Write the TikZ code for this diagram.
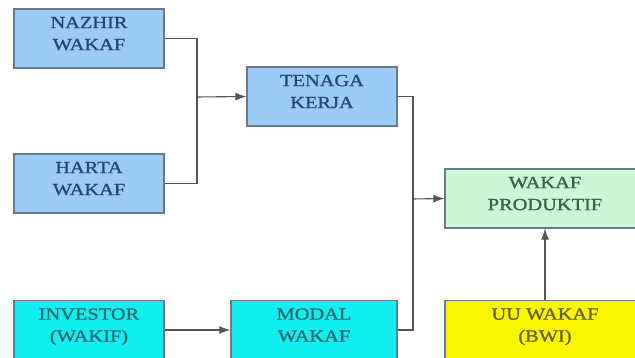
\documentclass[tikz,border=0pt]{standalone}
\usepackage{fontspec}
\setmainfont[FakeStretch=1.2,FakeBold=1.2]{Liberation Serif}
\usepackage{tikz}
\usetikzlibrary{arrows.meta,positioning}

\definecolor{boxblue}{HTML}{9CCBF7}
\definecolor{txtblue}{HTML}{274672}
\definecolor{boxcyan}{HTML}{10EEF0}
\definecolor{txtcyan}{HTML}{286A70}
\definecolor{boxgreen}{HTML}{CDF5D6}
\definecolor{txtgreen}{HTML}{3A6048}
\definecolor{boxyellow}{HTML}{FAF600}
\definecolor{txtyellow}{HTML}{666020}
\definecolor{edgegray}{HTML}{6A7A8C}
\definecolor{linegray}{HTML}{555555}

\begin{document}
\begin{tikzpicture}[
				x = 1pt, y = 1pt,
				every node/.style = {font = \fontsize{17}{22}\selectfont, align = center, text depth = 10pt},
				box/.style = {draw = edgegray, line width = 1.3pt, minimum height = 59pt, inner sep = 0pt},
				bluebox/.style = {box, fill = boxblue, text = txtblue, minimum width = 150pt},
				cyanbox/.style = {box, fill = boxcyan, text = txtcyan},
				greenbox/.style = {box, fill = boxgreen, text = txtgreen, minimum width = 200pt},
				yellowbox/.style = {box, fill = boxyellow, text = txtyellow, minimum width = 200pt},
				link/.style = {draw = linegray, line width = 1.1pt},
				arrowlink/.style = {link, -{Latex[length=11pt,width=8pt]}}
			]

			\useasboundingbox (0,0) rectangle (635,358);
			\clip (0,0) rectangle (635,358);

			\node[bluebox] (nazhir) at (89,319.5) {NAZHIR\\WAKAF};
			\node[bluebox] (harta) at (89,174.5) {HARTA\\WAKAF};
			\node[bluebox] (tenaga) at (322,261.5) {TENAGA\\KERJA};
			\node[cyanbox, minimum width = 150pt] (investor) at (89,28) {INVESTOR\\(WAKIF)};
			\node[cyanbox, minimum width = 166pt] (modal) at (314,28) {MODAL\\WAKAF};
			\node[greenbox] (produktif) at (545,159.5) {WAKAF\\PRODUKTIF};
			\node[yellowbox] (uu) at (545,28) {UU WAKAF\\(BWI)};

			\coordinate (joinA) at (197,261);
			\coordinate (joinB) at (413,159);

			\draw[link] (nazhir.east) -| (joinA) |- (harta.east);
			\draw[arrowlink] (joinA) -- (tenaga.west);

			\draw[link] (tenaga.east) -| (joinB) |- (modal.east);
			\draw[arrowlink] (joinB) -- (produktif.west);

			\draw[arrowlink] (investor.east) -- (modal.west);
			\draw[arrowlink] (uu.north) -- (produktif.south);

			\end{tikzpicture}
\end{document}
